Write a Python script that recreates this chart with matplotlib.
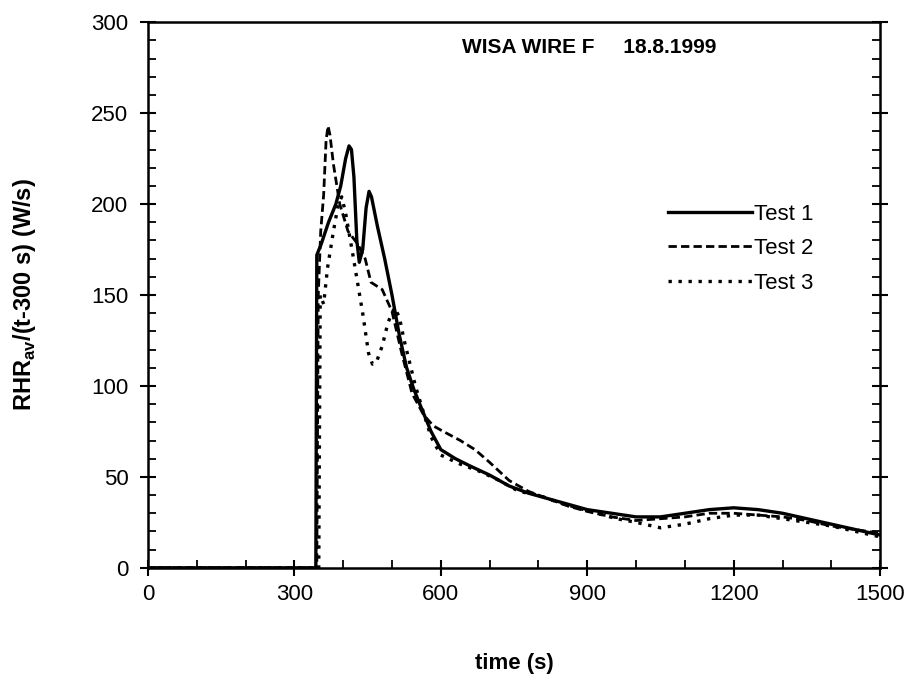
import matplotlib
matplotlib.use("Agg")
import matplotlib.pyplot as plt
from matplotlib.ticker import MultipleLocator

plt.rcParams['font.family'] = ['Liberation Sans', 'DejaVu Sans']
plt.rcParams['mathtext.fontset'] = 'custom'
plt.rcParams['mathtext.bf'] = 'Liberation Sans:bold'
plt.rcParams['mathtext.rm'] = 'Liberation Sans:bold'

# ---- data ----
t1 = [0, 344, 346, 355, 370, 385, 395, 405, 412, 417, 422, 428, 433, 440, 447, 453, 458, 470, 485,
      500, 515, 530, 545, 560, 580, 600, 630, 660, 700, 740, 780, 820, 860, 900,
      950, 1000, 1050, 1100, 1150, 1200, 1250, 1300, 1350, 1400, 1450, 1500]
y1 = [0, 0, 172, 178, 190, 200, 210, 225, 232, 230, 215, 180, 168, 175, 198, 207, 204, 188, 170,
      150, 128, 110, 98, 88, 75, 65, 60, 56, 51, 45, 41, 38, 35, 32,
      30, 28, 28, 30, 32, 33, 32, 30, 27, 24, 21, 18]

t2 = [0, 346, 349, 354, 360, 365, 369, 373, 380, 393, 410, 430, 445, 457, 480, 500, 520,
      541, 565, 585, 605, 640, 670, 700, 740, 780, 820, 860, 900, 950, 1000,
      1050, 1100, 1150, 1200, 1250, 1300, 1350, 1400, 1450, 1500]
y2 = [0, 0, 150, 185, 205, 235, 243, 238, 222, 200, 185, 178, 170, 157, 153, 141, 118,
      96, 84, 78, 75, 70, 65, 58, 48, 42, 38, 34, 31, 28, 26,
      27, 28, 30, 30, 29, 28, 26, 23, 21, 19]

t3 = [0, 350, 353, 360, 368, 380, 390, 397, 405, 420, 440, 452, 460, 468, 480, 492, 505, 515, 525,
      548, 565, 580, 600, 640, 680, 720, 760, 800, 840, 880, 920, 960, 1000,
      1050, 1100, 1150, 1200, 1250, 1300, 1350, 1400, 1450, 1500]
y3 = [0, 0, 150, 145, 165, 185, 200, 204, 195, 172, 140, 118, 112, 113, 122, 135, 143, 138, 125,
      100, 85, 72, 62, 57, 53, 48, 42, 40, 36, 33, 30, 27, 25,
      22, 24, 27, 29, 29, 27, 25, 23, 20, 17]

labels = ["Test 1", "Test 2", "Test 3"]
x_ticks = [0, 300, 600, 900, 1200, 1500]
y_ticks = [0, 50, 100, 150, 200, 250, 300]

fig = plt.figure(figsize=(9.13, 6.95), dpi=100)
ax = fig.add_axes([0.162, 0.183, 0.802, 0.785])

ax.plot(t1, y1, color='black', lw=2.4, ls='-', label=labels[0])
ax.plot(t2, y2, color='black', lw=2.0, ls=(0, (3, 1.5)), label=labels[1])
ax.plot(t3, y3, color='black', lw=2.4, ls=(0, (1, 2)), label=labels[2])

ax.set_xlim(0, 1500)
ax.set_ylim(0, 300)
ax.set_xticks(x_ticks)
ax.set_yticks(y_ticks)
ax.xaxis.set_minor_locator(MultipleLocator(100))
ax.yaxis.set_minor_locator(MultipleLocator(10))
ax.tick_params(which='major', direction='inout', length=12, width=1.5,
               labelsize=16, pad=6)
ax.tick_params(which='minor', direction='in', length=6, width=1.3)
ax.tick_params(axis='y', which='both', right=True)
ax.tick_params(axis='y', which='major', pad=8)
for s in ax.spines.values():
    s.set_linewidth(1.8)

ax.set_xlabel("time (s)", fontsize=16, fontweight='bold', labelpad=34)
ax.set_ylabel(r"RHR$_{\mathbf{av}}$/(t-300 s) (W/s)", fontsize=17,
              fontweight='bold', labelpad=38)

ax.text(643, 286, "WISA WIRE F     18.8.1999", fontsize=15, fontweight='bold',
        va='center', ha='left')

ax.legend(loc='upper left', bbox_to_anchor=(0.71, 0.667), frameon=False,
          fontsize=16, handlelength=3.8, handletextpad=0.1, labelspacing=0.6,
          borderpad=0, borderaxespad=0)

fig.savefig("out.png", dpi=100)
